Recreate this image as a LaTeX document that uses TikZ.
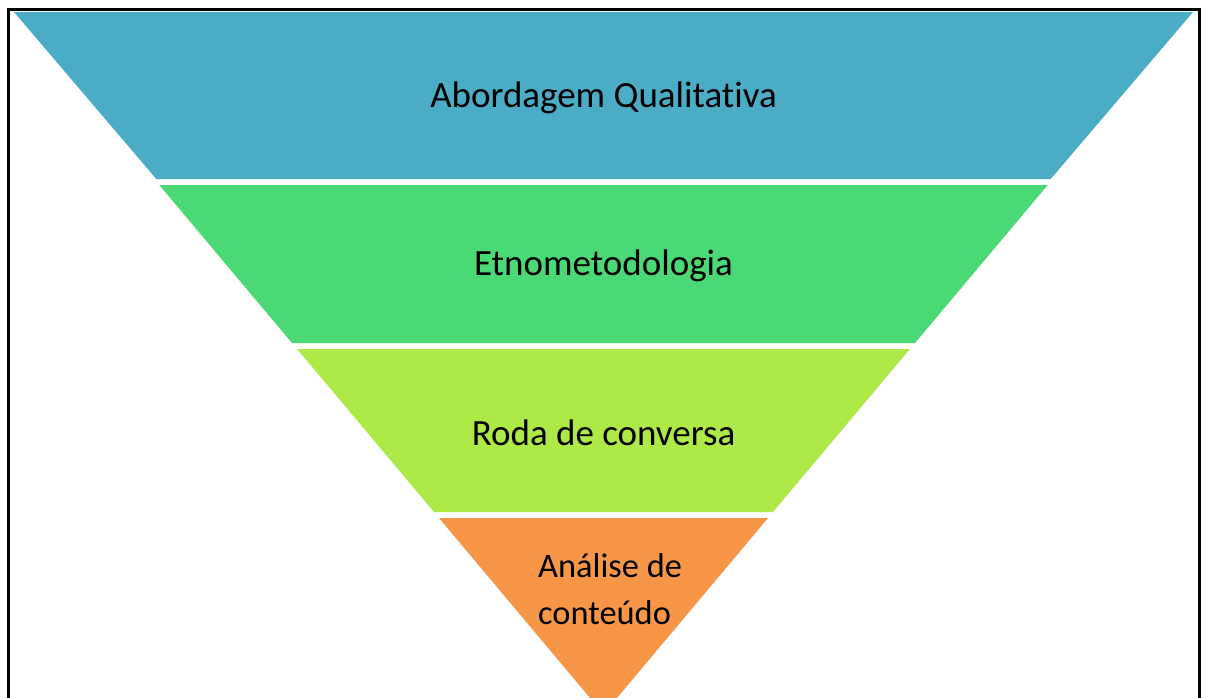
\documentclass[tikz,border=0pt]{standalone}
\usepackage{fontspec}
\setmainfont[Ligatures=NoCommon]{Carlito}
\definecolor{bandblue}{RGB}{75,172,198}
\definecolor{bandgreen}{RGB}{74,217,116}
\definecolor{bandlime}{RGB}{173,234,72}
\definecolor{bandorange}{RGB}{247,150,70}
\begin{document}
\begin{tikzpicture}[x=1pt,y=-1pt,
  band/.style={draw=none},
  label/.style={font=\fontsize{37}{47}\selectfont, text=black, inner sep=0pt},
  smalllabel/.style={font=\fontsize{34.4}{47}\selectfont, text=black, inner sep=0pt}]
\useasboundingbox (0,0) rectangle (1206,697);
\clip (0,0) rectangle (1206,697);
\fill[white] (0,0) rectangle (1206,697);
% frame
\draw[line width=3pt] (8,720) -- (8,9) -- (1199,9) -- (1199,720);
% bands
\fill[bandblue] (14,12) -- (1193,12) -- (1050.7,179) -- (156.3,179) -- cycle;
\fill[bandgreen] (159.3,185) -- (1047.7,185) -- (915,343) -- (292,343) -- cycle;
\fill[bandlime] (297.1,349) -- (909.9,349) -- (773,512) -- (434,512) -- cycle;
\fill[bandorange] (439,518) -- (768,518) -- (603.5,714) -- cycle;
% labels
\node[label] (l1) at (603.5,98) {Abordagem Qualitativa};
\node[label] (l2) at (603.5,266) {Etnometodologia};
\node[label] (l3) at (603.5,433) {Roda de conversa};
\node[smalllabel, align=left, anchor=west] (l4) at (538,589) {Análise de\\conteúdo};
\end{tikzpicture}
\end{document}
